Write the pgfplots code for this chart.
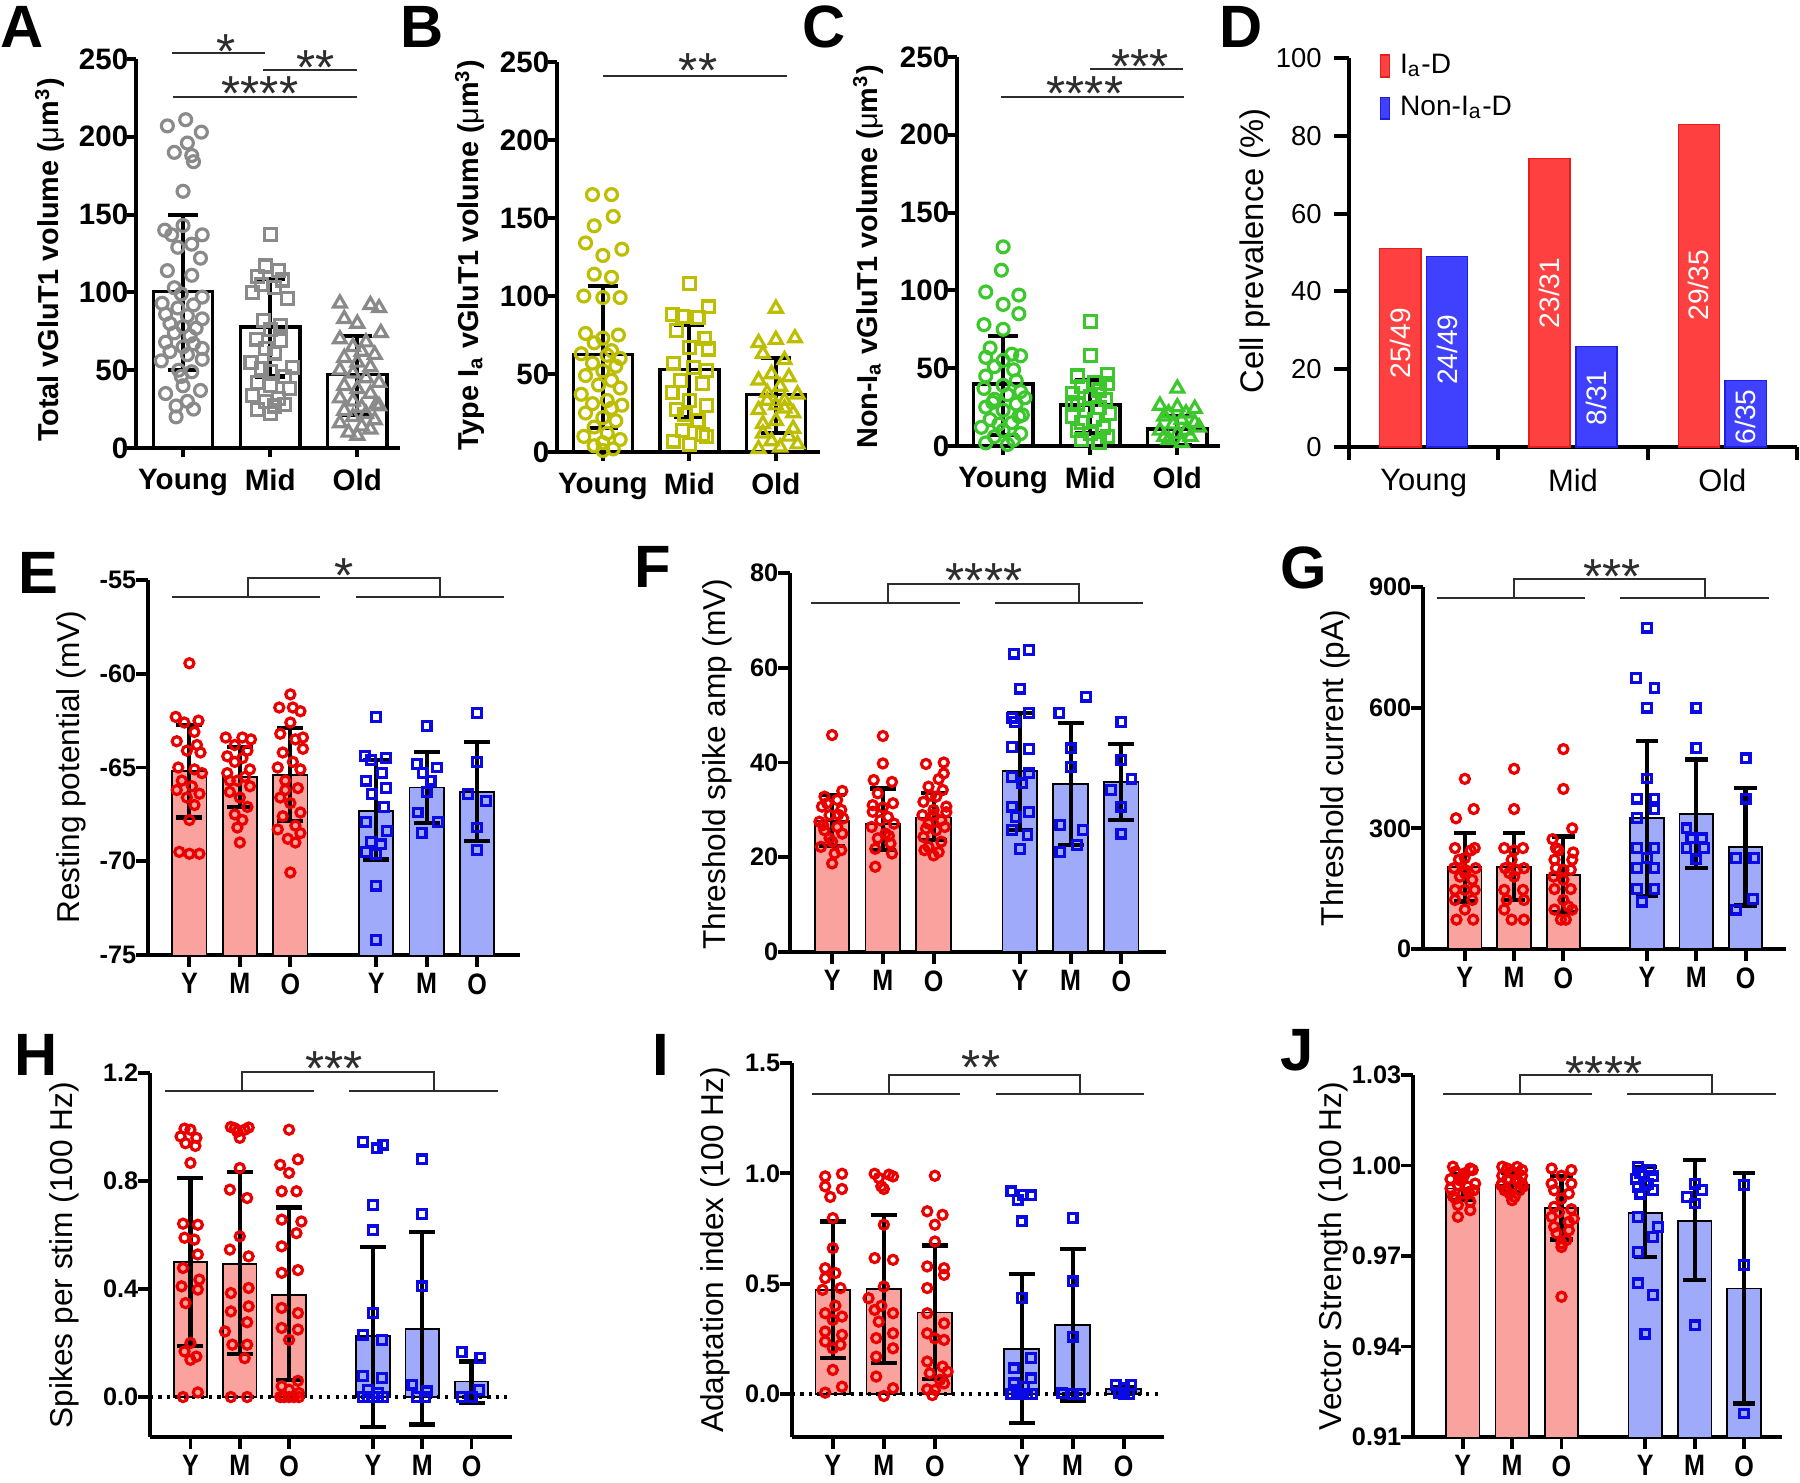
\documentclass[border=0pt]{standalone}
\usepackage{pgfplots}
\pgfplotsset{compat=1.18}
\usepackage{fontspec}
\setmainfont{Liberation Sans}
\setsansfont{Liberation Sans}
\newfontfamily\condf[FakeStretch=0.85]{Liberation Sans}

\definecolor{gpt}{RGB}{138,138,138}
\definecolor{ypt}{RGB}{190,190,0}
\definecolor{gnpt}{RGB}{60,200,45}
\definecolor{rpt}{RGB}{235,0,0}
\definecolor{bpt}{RGB}{10,10,230}
\definecolor{rbar}{RGB}{250,162,158}
\definecolor{bbar}{RGB}{160,170,250}
\definecolor{dred}{RGB}{255,64,64}
\definecolor{dredb}{RGB}{230,30,30}
\definecolor{dblue}{RGB}{64,64,255}
\definecolor{dblueb}{RGB}{30,30,220}
\definecolor{annc}{RGB}{45,45,45}

\newcommand{\fA}{\bfseries\fontsize{8.4}{9}\selectfont}
\newcommand{\fAc}{\bfseries\fontsize{8.4}{9}\selectfont}
\newcommand{\fAl}{\bfseries\fontsize{8.2}{9}\selectfont}
\newcommand{\fD}{\fontsize{7.8}{8}\selectfont}
\newcommand{\fDc}{\fontsize{8.8}{9}\selectfont}
\newcommand{\fDl}{\fontsize{9.3}{10}\selectfont}
\newcommand{\fE}{\bfseries\fontsize{7.2}{8}\selectfont}
\newcommand{\fEc}{\condf\bfseries\fontsize{8.4}{9}\selectfont}
\newcommand{\fEl}{\fontsize{9}{10}\selectfont}
\newcommand{\fL}{\bfseries\fontsize{17}{17}\selectfont}
\newcommand{\fS}{\fontsize{14}{14}\selectfont}
\newcommand{\stars}[1]{\raisebox{0pt}[0.62em][-0.35em]{#1}}

\pgfplotsset{
  base/.style={scale only axis, clip=false, anchor=south west,
    axis x line*=bottom, axis y line*=left,
    axis line style={line width=1.1pt, black},
    tick style={line width=1.1pt, black},
    tick align=outside, major tick length=0.9mm,
    /pgf/number format/assume math mode=true,
    ylabel style={anchor=center}},
  top/.style={base, ymin=0, ymax=250, ytick={0,50,100,150,200,250},
    yticklabels={0,50,100,150,200,250}, xtick={0,1,2}, xticklabels={Young,Mid,Old},
    yticklabel style={font=\fA, inner sep=0.3pt, xshift=0.3mm}, xticklabel style={font=\fAc}, ylabel style={font=\fAl}},
  mid/.style={base, major tick length=1.2mm, xtick={0,1,2,3.7,4.7,5.7}, xticklabels={Y,M,O,Y,M,O},
    yticklabel style={font=\fE, inner sep=0.3pt, xshift=0.2mm}, xticklabel style={font=\fEc, yshift=0.6mm}, ylabel style={font=\fEl}},
  ebA/.style={draw=none, mark=none, error bars/.cd, y dir=both, y explicit,
    error bar style={draw=black, line width=1.2pt},
    error mark options={rotate=90, mark size=4.3pt, line width=1.2pt, draw=black}},
  ebE/.style={draw=none, mark=none, error bars/.cd, y dir=both, y explicit,
    error bar style={draw=black, line width=1.2pt},
    error mark options={rotate=90, mark size=3.7pt, line width=1.2pt, draw=black}},
  ebG/.style={draw=none, mark=none, error bars/.cd, y dir=both, y explicit,
    error bar style={draw=black, line width=1.2pt},
    error mark options={rotate=90, mark size=3.2pt, line width=1.2pt, draw=black}},
  ptA/.style={only marks, mark size=1.7pt, mark options={line width=0.9pt}},
  rc/.style={only marks, mark=o, rpt, mark size=1.3pt, mark options={line width=0.9pt}},
  bs/.style={only marks, mark=square, bpt, mark size=1.25pt, mark options={line width=0.9pt}},
  rb/.style={ybar, bar width=0.68, bar shift=0pt, fill=rbar, draw=black, line width=0.5pt},
  bb/.style={ybar, bar width=0.68, bar shift=0pt, fill=bbar, draw=black, line width=0.5pt},
}

\begin{document}
\begin{tikzpicture}
\useasboundingbox (0,0) rectangle (180mm,-148.3mm);

% ---------------- A
\begin{axis}[top, at={(13.6mm,-44.8mm)}, width=26.4mm, height=38.9mm, xmin=-0.54, xmax=2.49,
  ylabel={Total vGluT1 volume ({\mdseries μ}m\textsuperscript{3})},
  ylabel style={at={(axis description cs:-0.326,0.483)}}]
\addplot[ybar, bar width=0.68, bar shift=0pt, fill=white, draw=black, line width=1pt] coordinates {(0,100.7) (1,77.8) (2,47.1)};
\addplot[ptA, mark=o, gpt] coordinates {(-0.18,207)(0.03,211)(0.21,203)(-0.1,190)(0.05,196)(0.1,188)(0.12,184)(0.0,165)(-0.21,140)(-0.13,137)(0.0,143)(0.1,131)(0.22,137)(-0.06,129)(0.2,122)(-0.18,114)(0.1,111)(-0.1,103)(-0.02,99)(0.22,97)(-0.24,93)(-0.06,90)(0.12,92)(-0.2,86)(0.05,85)(0.22,83)(-0.15,80)(0.0,78)(0.15,77)(-0.1,74)(0.08,72)(-0.2,68)(0.12,67)(0.0,65)(0.22,64)(-0.15,62)(0.05,60)(-0.25,56)(0.22,57)(-0.05,50)(0.1,49)(-0.02,46)(0.0,40)(-0.2,35)(0.2,37)(0.05,30)(-0.08,27)(0.12,25)(-0.08,20)};
\addplot[ptA, mark=square, gpt] coordinates {(1.0,137)(0.95,117)(1.1,114)(0.85,110)(1.14,108)(0.9,105)(1.05,103)(1.2,96)(0.8,100)(0.92,82)(1.12,79)(1.0,76)(0.84,70)(1.12,69)(0.95,64)(1.05,61)(0.78,55)(0.9,51)(1.26,52)(1.0,49)(1.16,46)(0.85,42)(1.0,40)(1.22,38)(0.8,34)(1.1,32)(0.95,30)(1.05,27)(0.85,25)(1.0,22)(1.16,28)};
\addplot[ptA, mark=triangle, mark size=2.1pt, gpt] coordinates {(1.8,93)(2.15,92)(2.25,90)(1.85,83)(2.0,80)(2.27,74)(1.8,70)(2.1,68)(1.95,65)(2.05,62)(2.2,60)(1.85,58)(2.0,55)(2.15,52)(1.8,50)(1.95,48)(2.1,45)(2.25,42)(1.85,40)(2.0,38)(2.15,35)(1.8,32)(1.95,30)(2.22,28)(2.05,26)(1.85,24)(2.1,22)(1.95,20)(2.2,18)(1.8,16)(2.05,14)(2.15,12)(1.9,10)(2.0,8)(2.25,27)};
\addplot[ebA] coordinates {(0,100) +- (0,50) (1,77.3) +- (0,31.3) (2,46.6) +- (0,25.2)};
\end{axis}

% ---------------- B
\begin{axis}[top, at={(55.7mm,-45.2mm)}, width=26.3mm, height=39.0mm, xmin=-0.53, xmax=2.51,
  ylabel={Type I\textsubscript{a} vGluT1 volume ({\mdseries μ}m\textsuperscript{3})},
  ylabel style={at={(axis description cs:-0.331,0.505)}}]
\addplot[ybar, bar width=0.68, bar shift=0pt, fill=white, draw=black, line width=1pt] coordinates {(0,62.4) (1,52.8) (2,37)};
\addplot[ptA, mark=o, ypt] coordinates {(-0.12,165)(0.1,165)(0.12,151)(-0.1,145)(-0.2,134)(0.22,130)(0.0,126)(-0.1,114)(0.1,112)(-0.22,100)(0.2,99)(0.0,99)(-0.2,76)(0.18,75)(0.0,73)(-0.1,70)(0.1,65)(-0.25,63)(0.05,62)(0.2,60)(-0.12,57)(0.15,55)(0.0,52)(-0.2,49)(0.1,46)(-0.05,43)(0.2,41)(-0.25,37)(0.05,33)(-0.12,31)(0.22,30)(0.1,28)(-0.2,25)(0.0,22)(0.15,20)(-0.1,16)(0.05,12)(-0.22,10)(0.2,8)(0.0,6)(-0.1,4)(0.12,2)(0.0,1)};
\addplot[ptA, mark=square, ypt] coordinates {(1.0,108)(1.22,93)(0.8,88)(0.92,87)(1.1,86)(0.85,78)(1.18,73)(1.0,67)(1.22,66)(0.82,57)(1.05,54)(1.2,52)(0.9,46)(1.15,44)(0.8,38)(1.0,33)(1.2,30)(0.85,27)(1.1,20)(0.92,14)(1.15,11)(0.82,7)(1.0,5)(1.2,10)(0.95,24)};
\addplot[ptA, mark=triangle, mark size=2.1pt, ypt] coordinates {(2.0,92)(1.8,70)(2.0,72)(2.22,73)(1.85,63)(2.1,59)(1.95,50)(2.15,48)(1.8,46)(2.05,42)(2.25,37)(1.9,33)(2.1,33)(1.8,27)(2.2,25)(2.0,20)(1.85,12)(2.15,10)(1.95,7)(2.25,5)(2.05,3)(1.8,2)(2.1,28)(1.9,38)(2.2,15)(2.0,30)(1.85,18)};
\addplot[ebA] coordinates {(0,60.9) +- (0,45.3) (1,51.8) +- (0,29.4) (2,36.35) +- (0,24.15)};
\end{axis}

% ---------------- C
\begin{axis}[top, at={(95.7mm,-44.6mm)}, width=26.3mm, height=38.9mm, xmin=-0.53, xmax=2.49,
  ylabel={Non-I\textsubscript{a} vGluT1 volume ({\mdseries μ}m\textsuperscript{3})},
  ylabel style={at={(axis description cs:-0.338,0.486)}}]
\addplot[ybar, bar width=0.68, bar shift=0pt, fill=white, draw=black, line width=1pt] coordinates {(0,40) (1,26.4) (2,11)};
\addplot[ptA, mark=o, gnpt] coordinates {(0.0,128)(-0.02,113)(-0.2,99)(0.18,97)(0.0,91)(0.18,85)(-0.22,78)(0.0,75)(-0.15,63)(0.1,59)(0.2,58)(-0.2,57)(0.0,55)(-0.1,51)(0.12,49)(-0.2,45)(0.15,42)(0.0,39)(-0.22,37)(0.2,35)(0.05,33)(-0.1,30)(0.15,27)(-0.2,25)(0.0,23)(0.22,20)(-0.15,17)(0.1,15)(-0.25,12)(0.0,10)(0.2,8)(-0.1,6)(0.12,4)(-0.2,2)(0.05,1)(-0.05,14)(0.18,19)(-0.12,28)(0.25,31)};
\addplot[ptA, mark=square, gnpt] coordinates {(1.0,80)(1.0,58)(1.2,46)(0.85,45)(1.05,41)(1.2,40)(0.9,38)(1.1,36)(0.8,34)(1.0,32)(1.18,30)(0.85,27)(1.1,25)(0.95,23)(1.22,21)(0.8,19)(1.05,17)(0.9,15)(1.15,12)(0.85,10)(1.0,8)(1.2,6)(0.9,4)(1.1,2)(0.8,28)};
\addplot[ptA, mark=triangle, mark size=2.1pt, gnpt] coordinates {(2.0,37)(1.8,26)(2.0,25)(2.2,24)(1.9,21)(2.1,21)(1.85,19)(2.05,17)(2.2,15)(1.8,10)(2.0,8)(2.15,6)(1.9,4)(2.05,2)(2.25,12)(1.95,14)(2.1,10)(1.85,6)};
\addplot[ebA] coordinates {(0,38.95) +- (0,31.85) (1,25.3) +- (0,17.2) (2,9.95) +- (0,9.35)};
\end{axis}

% ---------------- D
\begin{axis}[base, at={(134.9mm,-44.7mm)}, width=44.8mm, height=38.9mm, xmin=-0.5, xmax=2.5,
  ymin=0, ymax=100, ytick={0,20,40,60,80,100}, yticklabels={0,20,40,60,80,100},
  xtick={0,1,2}, xticklabels={Young,Mid,Old}, major x tick style={draw=none},
  minor xtick={-0.5,0.5,1.5,2.5}, minor tick length=1.3mm, major tick length=1.5mm,
  yticklabel style={font=\fD}, xticklabel style={font=\fDc, yshift=0.5mm},
  ylabel={Cell prevalence (\%)}, ylabel style={font=\fDl, at={(axis description cs:-0.21,0.504)}},
  legend style={at={(axis description cs:0.067,1.013)}, anchor=north west, draw=none, fill=none,
    inner sep=0pt, font=\fontsize{8}{9}\selectfont, row sep=5pt, column sep=2.8pt, nodes={inner sep=0pt}},
  legend cell align=left]
\addplot[ybar, bar width=0.276, bar shift=0pt, fill=dred, draw=dredb, line width=0.4pt,
  legend image code/.code={\draw[fill=dred, draw=dredb, line width=0.4pt] (0pt,-3.1pt) rectangle (2.6pt,3.1pt);}]
  coordinates {(-0.157,51.0) (0.843,74.2) (1.843,82.9)};
\addplot[ybar, bar width=0.276, bar shift=0pt, fill=dblue, draw=dblueb, line width=0.4pt,
  legend image code/.code={\draw[fill=dblue, draw=dblueb, line width=0.4pt] (0pt,-3.1pt) rectangle (2.6pt,3.1pt);}]
  coordinates {(0.157,49.0) (1.157,25.8) (2.157,17.1)};
\legend{I\textsubscript{a}-D, Non-I\textsubscript{a}-D}
\node[rotate=90, text=white, font=\fontsize{8}{8}\selectfont] at (axis cs:-0.157,26.7) {25/49};
\node[rotate=90, text=white, font=\fontsize{8}{8}\selectfont] at (axis cs:0.157,25) {24/49};
\node[rotate=90, text=white, font=\fontsize{8}{8}\selectfont] at (axis cs:0.843,39.6) {23/31};
\node[rotate=90, text=white, font=\fontsize{8}{8}\selectfont] at (axis cs:1.157,12.6) {8/31};
\node[rotate=90, text=white, font=\fontsize{8}{8}\selectfont] at (axis cs:1.843,41.6) {29/35};
\node[rotate=90, text=white, font=\fontsize{8}{8}\selectfont] at (axis cs:2.157,7.7) {6/35};
\end{axis}

% ---------------- E
\begin{axis}[mid, at={(14.8mm,-95.5mm)}, width=37.2mm, height=37.5mm, xmin=-0.82, xmax=6.55,
  ymin=-75, ymax=-55, ytick={-75,-70,-65,-60,-55}, yticklabels={-75,-70,-65,-60,-55},
  ylabel={Resting potential (mV)}, ylabel style={at={(axis description cs:-0.207,0.501)}}]
\addplot[fill=rbar, draw=black, line width=0.5pt, mark=none] coordinates {(-0.34,-75) (-0.34,-65.19) (0.34,-65.19) (0.34,-75)};
\addplot[fill=rbar, draw=black, line width=0.5pt, mark=none] coordinates {(0.66,-75) (0.66,-65.5) (1.34,-65.5) (1.34,-75)};
\addplot[fill=rbar, draw=black, line width=0.5pt, mark=none] coordinates {(1.66,-75) (1.66,-65.4) (2.34,-65.4) (2.34,-75)};
\addplot[fill=bbar, draw=black, line width=0.5pt, mark=none] coordinates {(3.36,-75) (3.36,-67.3) (4.04,-67.3) (4.04,-75)};
\addplot[fill=bbar, draw=black, line width=0.5pt, mark=none] coordinates {(4.36,-75) (4.36,-66.06) (5.04,-66.06) (5.04,-75)};
\addplot[fill=bbar, draw=black, line width=0.5pt, mark=none] coordinates {(5.36,-75) (5.36,-66.3) (6.04,-66.3) (6.04,-75)};
\addplot[rc] coordinates {(0.0,-59.44)(-0.27,-62.3)(0.18,-62.5)(-0.1,-62.6)(0.1,-63.1)(-0.25,-63.6)(0.15,-63.8)(-0.05,-64.1)(0.22,-64.2)(-0.22,-65.0)(0.1,-65.1)(0.25,-65.3)(-0.15,-65.7)(0.05,-66.0)(-0.25,-66.2)(0.2,-66.4)(-0.05,-66.6)(0.0,-67.8)(-0.2,-69.5)(0.0,-69.6)(0.2,-69.6)(0.1,-67.0)};
\addplot[rc] coordinates {(0.72,-63.4)(1.05,-63.4)(1.22,-63.5)(0.9,-63.8)(1.15,-64.1)(0.75,-64.4)(1.05,-64.5)(0.9,-64.7)(1.2,-65.1)(0.75,-65.3)(1.1,-65.5)(0.95,-65.7)(1.2,-66.0)(0.8,-66.3)(1.0,-66.6)(1.15,-67.1)(0.9,-67.5)(1.05,-67.8)(0.95,-68.2)(1.0,-69.0)(0.8,-65.7)};
\addplot[rc] coordinates {(2.0,-61.1)(1.78,-61.8)(2.05,-61.8)(2.2,-62.0)(2.0,-62.6)(1.8,-63.2)(2.25,-63.4)(2.1,-63.5)(1.85,-64.2)(2.05,-64.7)(1.75,-65.0)(2.2,-65.1)(1.9,-65.7)(2.15,-66.1)(1.8,-66.6)(2.0,-66.9)(2.2,-67.4)(1.85,-67.6)(2.1,-68.1)(1.75,-68.3)(2.2,-68.5)(1.95,-68.8)(2.1,-69.0)(2.0,-70.6)(1.9,-66.2)(2.25,-64.0)};
\addplot[bs] coordinates {(3.7,-62.3)(3.48,-64.4)(3.9,-64.5)(3.6,-64.6)(3.82,-65.3)(3.5,-65.7)(3.9,-66.1)(3.62,-66.4)(3.85,-67.1)(3.5,-67.9)(3.92,-68.4)(3.6,-68.96)(3.8,-69.1)(3.5,-69.5)(3.7,-69.6)(3.7,-71.3)(3.7,-74.2)};
\addplot[bs] coordinates {(4.7,-62.8)(4.5,-64.8)(4.9,-65.0)(4.62,-65.3)(4.78,-65.7)(4.7,-66.3)(4.52,-67.4)(4.92,-67.9)(4.6,-68.5)};
\addplot[bs] coordinates {(5.7,-62.1)(5.7,-64.7)(5.52,-66.4)(5.88,-66.8)(5.7,-68.2)(5.7,-69.4)};
\addplot[ebE] coordinates {(0,-65.2) +- (0,2.47) (1,-65.5) +- (0,1.59) (2,-65.38) +- (0,2.47) (3.7,-67.25) +- (0,2.65) (4.7,-66.05) +- (0,1.89) (5.7,-66.29) +- (0,2.63)};
\end{axis}

% ---------------- F
\begin{axis}[mid, at={(79.0mm,-95.2mm)}, width=37.6mm, height=37.9mm, xmin=-0.83, xmax=6.58,
  ymin=0, ymax=80, ytick={0,20,40,60,80}, yticklabels={0,20,40,60,80},
  ylabel={Threshold spike amp (mV)}, ylabel style={at={(axis description cs:-0.193,0.496)}}]
\addplot[rb] coordinates {(0,27.6) (1,27.1) (2,28.4)};
\addplot[bb] coordinates {(3.7,38.2) (4.7,35.4) (5.7,35.9)};
\addplot[rc] coordinates {(0.0,45.8)(0.2,34.0)(-0.15,32.8)(0.1,32.1)(-0.2,30.7)(0.18,30.0)(-0.05,28.9)(0.22,28.2)(-0.25,27.5)(0.1,26.4)(-0.15,25.7)(0.2,25.0)(-0.05,24.0)(-0.22,22.2)(0.18,21.5)(0.05,20.8)(0.0,18.7)(-0.1,31.4)(0.12,29.0)(-0.18,26.8)(0.0,23.3)};
\addplot[rc] coordinates {(1.0,45.6)(1.0,39.8)(0.82,36.3)(1.18,35.9)(0.9,33.5)(1.2,31.4)(0.8,29.6)(1.1,28.5)(0.95,27.8)(1.22,27.1)(0.78,26.4)(1.05,25.0)(0.9,24.0)(1.15,22.9)(0.85,21.8)(1.18,20.8)(0.85,18.0)(1.0,30.5)(0.8,31.0)(1.12,24.5)};
\addplot[rc] coordinates {(1.85,39.7)(2.2,37.7)(1.9,34.9)(2.18,34.2)(2.05,32.8)(1.8,31.7)(2.25,30.7)(2.0,30.0)(1.78,28.9)(2.15,27.8)(1.9,27.1)(2.22,26.4)(2.05,25.7)(1.8,24.3)(2.15,23.3)(1.9,22.2)(2.1,21.1)(2.0,20.4)(1.82,21.5)(2.25,29.5)(1.95,33.0)(2.1,36.5)(2.2,40.0)(1.85,26.0)(2.0,29.0)};
\addplot[bs] coordinates {(3.58,63.0)(3.88,63.8)(3.7,55.6)(3.88,50.4)(3.55,49.5)(3.6,48.6)(3.55,43.3)(3.88,42.8)(3.88,37.7)(3.55,37.0)(3.75,35.6)(3.55,30.7)(3.88,29.6)(3.62,28.5)(3.55,25.7)(3.85,24.7)(3.7,21.8)};
\addplot[bs] coordinates {(5.0,53.9)(4.48,50.4)(4.7,43.0)(4.7,39.1)(4.5,26.8)(4.95,25.7)(4.82,22.6)(4.5,21.1)};
\addplot[bs] coordinates {(5.7,48.6)(5.7,40.5)(5.9,36.6)(5.5,34.2)(5.7,30.7)(5.7,25.0)};
\addplot[ebE] coordinates {(0,27.7) +- (0,5.4) (1,28.05) +- (0,6.45) (2,28.55) +- (0,4.95) (3.7,38.1) +- (0,12.4) (4.7,35.5) +- (0,12.9) (5.7,35.85) +- (0,8.05)};
\end{axis}

% ---------------- G
\begin{axis}[mid, at={(142.3mm,-94.9mm)}, width=36.3mm, height=36.2mm, xmin=-0.85, xmax=6.52,
  ymin=0, ymax=900, ytick={0,300,600,900}, yticklabels={0,300,600,900},
  ylabel={Threshold current (pA)}, ylabel style={at={(axis description cs:-0.242,0.5)}}]
\addplot[rb] coordinates {(0,203) (1,203) (2,184)};
\addplot[bb] coordinates {(3.7,325) (4.7,336) (5.7,253)};
\addplot[rc] coordinates {(0.0,423)(-0.18,325)(0.18,348)(-0.2,251)(0.2,251)(0.0,226)(-0.22,201)(0.22,201)(0.0,197)(-0.1,180)(0.15,172)(0.0,147)(-0.2,147)(0.2,147)(-0.2,122)(0.15,122)(-0.17,73)(0.17,73)(0.0,98)(-0.12,222)(0.12,245)(0.0,189)};
\addplot[rc] coordinates {(1.0,448)(1.0,348)(0.8,251)(1.18,251)(0.95,222)(0.82,201)(1.2,201)(1.0,180)(0.8,147)(1.18,147)(0.85,122)(1.2,122)(0.8,98)(0.95,73)(1.2,73)(1.05,197)(1.0,245)(0.9,189)};
\addplot[rc] coordinates {(2.0,497)(2.0,398)(2.18,300)(1.78,273)(1.85,251)(2.18,222)(1.82,222)(2.0,197)(2.15,197)(1.85,201)(2.15,149)(1.82,149)(2.0,122)(1.82,98)(2.18,98)(1.95,73)(2.05,73)(2.0,172)(2.1,106)(1.9,245)(2.2,240)(1.8,180)};
\addplot[bs] coordinates {(3.7,799)(3.48,674)(3.85,649)(3.7,600)(3.7,424)(3.5,374)(3.85,374)(3.85,347)(3.5,325)(3.5,251)(3.85,251)(3.5,201)(3.85,201)(3.5,149)(3.85,149)(3.6,118)(3.7,226)};
\addplot[bs] coordinates {(4.7,600)(4.7,499)(4.5,300)(4.82,275)(4.6,275)(4.5,251)(4.85,251)(4.7,223)};
\addplot[bs] coordinates {(5.7,474)(5.7,374)(5.5,226)(5.88,226)(5.85,124)(5.5,98)};
\addplot[ebG] coordinates {(0,203) +- (0,85) (1,204.5) +- (0,83.5) (2,185.5) +- (0,94.5) (3.7,324.5) +- (0,192.5) (4.7,336) +- (0,135) (5.7,254) +- (0,146)};
\end{axis}

% ---------------- H
\begin{axis}[mid, at={(15.0mm,-143.7mm)}, width=36.2mm, height=36.4mm, xmin=-0.82, xmax=6.52,
  ymin=-0.148, ymax=1.2, ytick={0,0.4,0.8,1.2}, yticklabels={0.0,0.4,0.8,1.2},
  ylabel={Spikes per stim (100 Hz)}, ylabel style={at={(axis description cs:-0.238,0.5)}}]
\addplot[rb] coordinates {(0,0.50) (1,0.494) (2,0.379)};
\addplot[bb] coordinates {(3.7,0.225) (4.7,0.252) (5.7,0.058)};
\addplot[black, mark=none, line width=1.1pt, dash pattern=on 0.9pt off 1.5pt] coordinates {(-0.82,0) (6.44,0)};
\addplot[rc] coordinates {(-0.12,0.994)(0.0,0.99)(-0.2,0.965)(0.12,0.96)(-0.1,0.94)(0.1,0.93)(0.0,0.867)(-0.15,0.642)(0.15,0.638)(-0.12,0.59)(0.08,0.583)(0.15,0.528)(-0.15,0.478)(0.18,0.435)(-0.18,0.41)(0.15,0.398)(-0.1,0.348)(0.0,0.2)(-0.12,0.169)(0.12,0.15)(0.0,0.138)(0.15,0.017)(-0.15,0.0)};
\addplot[rc] coordinates {(0.82,1.0)(0.9,0.995)(1.1,0.99)(1.18,0.998)(0.95,0.983)(1.0,0.96)(1.0,0.848)(0.8,0.768)(1.15,0.737)(1.0,0.595)(0.8,0.546)(1.18,0.521)(1.18,0.404)(0.82,0.385)(0.82,0.317)(1.18,0.336)(1.15,0.277)(0.7,0.243)(0.85,0.194)(1.15,0.194)(1.1,0.144)(0.82,0.0)(1.15,0.0)};
\addplot[rc] coordinates {(2.0,0.99)(1.82,0.86)(2.18,0.88)(2.0,0.83)(1.85,0.762)(2.15,0.762)(1.85,0.657)(2.25,0.65)(2.15,0.607)(1.85,0.558)(2.18,0.47)(1.85,0.46)(1.85,0.33)(2.18,0.311)(1.85,0.256)(2.18,0.25)(2.0,0.212)(2.18,0.06)(1.85,0.04)(2.0,0.027)(2.2,0.015)(1.82,0.0)(1.9,0.0)(2.0,0.0)(2.1,0.0)(2.2,0.0)};
\addplot[bs] coordinates {(3.5,0.946)(3.78,0.921)(3.9,0.935)(3.7,0.712)(3.7,0.617)(3.7,0.311)(3.5,0.231)(3.88,0.212)(3.5,0.077)(3.88,0.071)(3.6,0.027)(3.8,0.015)(3.5,0.0)(3.6,0.0)(3.7,0.0)(3.8,0.0)(3.9,0.0)};
\addplot[bs] coordinates {(4.7,0.88)(4.7,0.677)(4.7,0.41)(4.5,0.046)(4.8,0.021)(4.6,0.0)(4.75,0.0)};
\addplot[bs] coordinates {(5.5,0.167)(5.88,0.144)(5.85,0.027)(5.5,0.0)(5.7,0.0)};
\addplot[ebE] coordinates {(0,0.5) +- (0,0.31) (1,0.4955) +- (0,0.3365) (2,0.382) +- (0,0.32) (3.7,0.2225) +- (0,0.3335) (4.7,0.254) +- (0,0.356) (5.7,0.055) +- (0,0.077)};
\end{axis}

% ---------------- I
\begin{axis}[mid, at={(79.2mm,-143.7mm)}, width=37.2mm, height=37.4mm, xmin=-0.80, xmax=6.49,
  ymin=-0.195, ymax=1.5, ytick={0,0.5,1.0,1.5}, yticklabels={0.0,0.5,1.0,1.5},
  ylabel={Adaptation index (100 Hz)}, ylabel style={at={(axis description cs:-0.205,0.5)}}]
\addplot[rb] coordinates {(0,0.472) (1,0.475) (2,0.369)};
\addplot[bb] coordinates {(3.7,0.203) (4.7,0.313) (5.7,0.021)};
\addplot[black, mark=none, line width=1.1pt, dash pattern=on 0.9pt off 1.5pt] coordinates {(-0.80,0) (6.43,0)};
\addplot[rc] coordinates {(-0.15,0.986)(0.18,0.998)(-0.15,0.941)(0.18,0.929)(-0.05,0.893)(0.0,0.797)(0.0,0.661)(-0.15,0.57)(0.05,0.548)(-0.15,0.525)(0.15,0.48)(-0.2,0.472)(-0.15,0.366)(0.18,0.351)(0.0,0.336)(-0.15,0.283)(0.18,0.268)(-0.15,0.238)(0.15,0.223)(0.0,0.207)(0.0,0.109)(0.18,0.033)(-0.15,0.006)(0.05,0.4)};
\addplot[rc] coordinates {(0.82,0.998)(1.1,0.994)(1.18,0.986)(0.9,0.979)(0.95,0.941)(1.0,0.929)(1.0,0.767)(0.82,0.616)(1.18,0.608)(1.0,0.487)(0.7,0.434)(0.82,0.381)(1.18,0.366)(0.9,0.328)(1.18,0.275)(0.85,0.253)(1.18,0.207)(0.85,0.169)(0.85,0.079)(1.18,0.026)(1.0,-0.009)(0.95,0.4)};
\addplot[rc] coordinates {(2.0,0.989)(1.85,0.828)(2.15,0.812)(2.0,0.767)(2.0,0.691)(1.85,0.578)(2.18,0.57)(2.18,0.54)(1.85,0.48)(1.85,0.366)(2.18,0.32)(1.85,0.275)(2.18,0.245)(2.0,0.252)(1.85,0.147)(2.15,0.124)(2.25,0.101)(1.9,0.094)(2.1,0.064)(2.18,0.048)(2.0,0.018)(1.95,-0.005)(1.85,0.021)};
\addplot[bs] coordinates {(3.5,0.918)(3.72,0.903)(3.88,0.9)(3.62,0.88)(3.7,0.782)(3.7,0.434)(3.88,0.162)(3.55,0.116)(3.88,0.071)(3.55,0.048)(3.75,0.033)(3.6,0.018)(3.5,0.0)(3.6,0.0)(3.7,0.0)(3.8,0.0)(3.9,0.0)};
\addplot[bs] coordinates {(4.7,0.797)(4.7,0.51)(4.7,0.26)(4.5,0.003)(4.7,0.0)(4.85,0.0)};
\addplot[bs] coordinates {(5.55,0.04)(5.85,0.04)(5.7,0.026)(5.6,0.006)(5.8,0.0)(5.7,0.0)};
\addplot[ebE] coordinates {(0,0.472) +- (0,0.31) (1,0.4755) +- (0,0.3365) (2,0.3705) +- (0,0.3025) (3.7,0.205) +- (0,0.338) (4.7,0.3125) +- (0,0.3445) (5.7,0.021) +- (0,0.012)};
\end{axis}

% ---------------- J
\begin{axis}[mid, at={(141.3mm,-143.7mm)}, width=36.9mm, height=36.2mm, xmin=-1.01, xmax=6.47,
  ymin=0.91, ymax=1.03, ytick={0.91,0.94,0.97,1.00,1.03}, yticklabels={0.91,0.94,0.97,1.00,1.03},
  ylabel={Vector Strength (100 Hz)}, ylabel style={at={(axis description cs:-0.217,0.5)}}]
\addplot[fill=rbar, draw=black, line width=0.5pt, mark=none] coordinates {(-0.34,0.91) (-0.34,0.9924) (0.34,0.9924) (0.34,0.91)};
\addplot[fill=rbar, draw=black, line width=0.5pt, mark=none] coordinates {(0.66,0.91) (0.66,0.9935) (1.34,0.9935) (1.34,0.91)};
\addplot[fill=rbar, draw=black, line width=0.5pt, mark=none] coordinates {(1.66,0.91) (1.66,0.9858) (2.34,0.9858) (2.34,0.91)};
\addplot[fill=bbar, draw=black, line width=0.5pt, mark=none] coordinates {(3.36,0.91) (3.36,0.9843) (4.04,0.9843) (4.04,0.91)};
\addplot[fill=bbar, draw=black, line width=0.5pt, mark=none] coordinates {(4.36,0.91) (4.36,0.9817) (5.04,0.9817) (5.04,0.91)};
\addplot[fill=bbar, draw=black, line width=0.5pt, mark=none] coordinates {(5.36,0.91) (5.36,0.9592) (6.04,0.9592) (6.04,0.91)};
\addplot[rc] coordinates {(-0.2,0.9996)(0.15,0.999)(0.2,0.9985)(-0.15,0.998)(0.0,0.9966)(-0.25,0.9955)(0.25,0.994)(-0.1,0.9935)(0.1,0.993)(-0.25,0.9924)(0.22,0.9918)(0.0,0.9907)(-0.15,0.989)(0.15,0.988)(-0.1,0.9869)(0.15,0.9852)(-0.1,0.983)(0.05,0.9975)(-0.05,0.995)(0.12,0.9912)(-0.2,0.9898)(0.0,0.9958)};
\addplot[rc] coordinates {(0.8,0.9996)(0.9,0.999)(1.1,0.9995)(1.2,0.9985)(1.0,0.9974)(0.8,0.9966)(1.2,0.9966)(0.9,0.9955)(1.1,0.9955)(0.8,0.994)(1.2,0.994)(1.0,0.993)(0.85,0.9918)(1.15,0.9918)(0.95,0.9907)(1.05,0.9896)(1.0,0.9885)(0.88,0.992)(1.12,0.9945)(1.0,0.998)(0.78,0.9935)(1.22,0.993)};
\addplot[rc] coordinates {(1.8,0.999)(2.2,0.9985)(2.0,0.9966)(1.8,0.994)(2.2,0.994)(1.85,0.9918)(2.15,0.9907)(2.0,0.989)(1.85,0.9863)(1.8,0.983)(2.25,0.9824)(2.15,0.9813)(1.85,0.9797)(2.15,0.9785)(1.9,0.9775)(2.1,0.9753)(2.0,0.9742)(2.0,0.973)(2.0,0.9565)(2.2,0.9855)(1.95,0.9845)};
\addplot[bs] coordinates {(3.55,0.9996)(3.8,0.9985)(3.6,0.9974)(3.85,0.9966)(3.5,0.9955)(3.75,0.994)(3.55,0.993)(3.85,0.9918)(3.6,0.9907)(3.55,0.983)(3.95,0.9797)(3.85,0.9764)(3.55,0.9714)(3.55,0.9609)(3.85,0.957)(3.7,0.9443)(3.7,0.9935)};
\addplot[bs] coordinates {(4.7,0.994)(4.85,0.9918)(4.55,0.9896)(4.7,0.9874)(4.7,0.947)};
\addplot[bs] coordinates {(5.7,0.9935)(5.7,0.967)(5.7,0.9178)};
\addplot[ebG] coordinates {(0,0.9928) +- (0,0.0043) (1,0.99435) +- (0,0.0031) (2,0.98605) +- (0,0.01055) (3.7,0.98455) +- (0,0.01485) (4.7,0.9819) +- (0,0.0199) (5.7,0.95935) +- (0,0.03825)};
\end{axis}

% ---------------- annotations, letters
\begin{scope}[x=0.1mm, y=-0.1mm]
\tikzset{ann/.style={draw=annc, line width=0.6pt}, st/.style={anchor=north, inner sep=0pt, text=annc, font=\fS}}
% A
\draw[ann] (172,53) -- (265,53);
\draw[ann] (263,70) -- (357,70);
\draw[ann] (173,97) -- (357,97);
\node[st] at (226,37) {\stars{*}};
\node[st] at (316,53) {\stars{**}};
\node[st] at (260,79) {\stars{****}};
% B
\draw[ann] (603,76) -- (787,76);
\node[st] at (698,56) {\stars{**}};
% C
\draw[ann] (1090,69) -- (1183,69);
\draw[ann] (1001,97) -- (1184,97);
\node[st] at (1140,52) {\stars{***}};
\node[st] at (1085,79) {\stars{****}};
% E
\draw[ann] (172,597) -- (320,597);
\draw[ann] (356,597) -- (504,597);
\draw[ann] (248,597) -- (248,578) -- (440,578) -- (440,597);
\node[st] at (344,561) {\stars{*}};
% F
\draw[ann] (811,603) -- (960,603);
\draw[ann] (995,603) -- (1143,603);
\draw[ann] (888,603) -- (888,584) -- (1079,584) -- (1079,603);
\node[st] at (984,566) {\stars{****}};
% G
\draw[ann] (1437,598) -- (1585,598);
\draw[ann] (1620,598) -- (1769,598);
\draw[ann] (1514,598) -- (1514,579) -- (1705,579) -- (1705,598);
\node[st] at (1612,562) {\stars{***}};
% H
\draw[ann] (165,1091) -- (314,1091);
\draw[ann] (349,1091) -- (498,1091);
\draw[ann] (242,1091) -- (242,1072) -- (434,1072) -- (434,1091);
\node[st] at (334,1054) {\stars{***}};
% I
\draw[ann] (812,1094) -- (960,1094);
\draw[ann] (996,1094) -- (1144,1094);
\draw[ann] (889,1094) -- (889,1075) -- (1080,1075) -- (1080,1094);
\node[st] at (981,1053) {\stars{**}};
% J
\draw[ann] (1443,1094) -- (1592,1094);
\draw[ann] (1627,1094) -- (1776,1094);
\draw[ann] (1520,1094) -- (1520,1075) -- (1712,1075) -- (1712,1094);
\node[st] at (1604,1059) {\stars{****}};
% letters
\node[anchor=base west, inner sep=0pt, font=\fL] at (0,47) {A};
\node[anchor=base west, inner sep=0pt, font=\fL] at (400,47) {B};
\node[anchor=base west, inner sep=0pt, font=\fL] at (802,47) {C};
\node[anchor=base west, inner sep=0pt, font=\fL] at (1219,47) {D};
\node[anchor=base west, inner sep=0pt, font=\fL] at (18,593) {E};
\node[anchor=base west, inner sep=0pt, font=\fL] at (634,587) {F};
\node[anchor=base west, inner sep=0pt, font=\fL] at (1280,588) {G};
\node[anchor=base west, inner sep=0pt, font=\fL] at (14,1075) {H};
\node[anchor=base west, inner sep=0pt, font=\fL] at (652,1075) {I};
\node[anchor=base west, inner sep=0pt, font=\fL] at (1280,1070) {J};
\end{scope}
\end{tikzpicture}
\end{document}
